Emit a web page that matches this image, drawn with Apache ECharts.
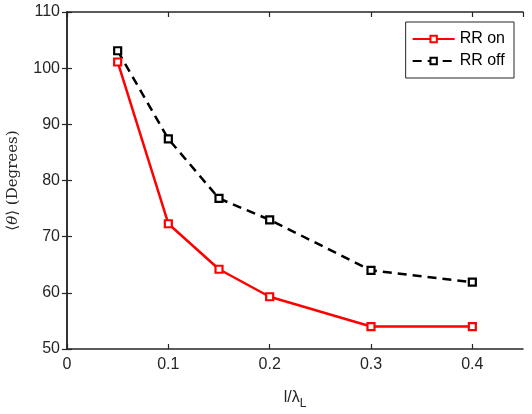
<!DOCTYPE html>
<html>
<head>
<meta charset="utf-8">
<script src="https://cdn.jsdelivr.net/npm/echarts@6/dist/echarts.min.js"></script>
<style>
  html, body { margin: 0; padding: 0; background: #fff; }
  #chart { width: 532px; height: 414px; }
</style>
</head>
<body>
<div id="chart"></div>
<script>
// data
const xVals = [0.05, 0.1, 0.15, 0.2, 0.3, 0.4]
const rrOn = [101.1, 72.3, 64.2, 59.3, 54.0, 54.0]
const rrOff = [103.1, 87.4, 76.8, 73.0, 64.0, 61.9]
const xTicks = [0, 0.1, 0.2, 0.3, 0.4]

const AXIS_COL = '#262626'
const FONT = '"Liberation Sans", Arial, sans-serif'
const SERIF = '"DejaVu Serif", "Liberation Serif", serif'
const RED = '#ff0000'
const BLACK = '#000000'

const pairs = (ys) => xVals.map((x, i) => [x, ys[i]])

function makeSeries(name, vals, color, dashed) {
  return {
    name,
    type: 'line',
    data: pairs(vals),
    symbol: 'rect',
    symbolSize: 7,
    showSymbol: true,
    lineStyle: { color, width: 2.5, type: dashed ? [9, 6] : 'solid' },
    itemStyle: { color: '#fff', borderColor: color, borderWidth: 2.2 },
    emphasis: { disabled: true },
    animation: false,
  }
}

const baseX = {
  type: 'value',
  min: 0,
  max: 0.45,
  interval: 0.1,
  axisLine: { show: true, lineStyle: { color: AXIS_COL, width: 1.5 } },
  axisTick: { show: true, inside: true, length: 5, lineStyle: { color: AXIS_COL, width: 1.2 } },
  splitLine: { show: false },
}
const baseY = {
  type: 'value',
  min: 50,
  max: 110,
  interval: 10,
  axisLine: { show: true, lineStyle: { color: AXIS_COL, width: 1.5 } },
  axisTick: { show: true, inside: true, length: 5, lineStyle: { color: AXIS_COL, width: 1.2 } },
  splitLine: { show: false },
}

const option = {
  backgroundColor: '#fff',
  animation: false,
  grid: { left: 67, right: 9, top: 12, bottom: 65, containLabel: false, outerBoundsMode: 'none' },
  legend: {
    right: 18,
    top: 22,
    orient: 'vertical',
    backgroundColor: '#fff',
    borderColor: AXIS_COL,
    borderWidth: 1,
    borderRadius: 0,
    padding: [9, 9, 9, 6],
    itemWidth: 42,
    itemHeight: 8,
    itemGap: 6,
    textStyle: { fontFamily: FONT, fontSize: 16, color: '#000' },
    data: ['RR on', 'RR off'],
  },
  xAxis: [
    {
      ...baseX,
      position: 'bottom',
      name: 'l/λ{sub|L}',
      nameLocation: 'middle',
      nameGap: 37,
      nameTextStyle: {
        fontFamily: FONT, fontSize: 16, color: AXIS_COL,
        rich: { sub: { fontFamily: FONT, fontSize: 12, color: AXIS_COL, padding: [12, 0, 0, 0] } },
      },
      axisLabel: {
        fontFamily: FONT, fontSize: 16, color: AXIS_COL, margin: 8,
        showMaxLabel: false,
        formatter: (v) => (xTicks.some(t => Math.abs(t - v) < 1e-9) ? String(+v.toFixed(1)) : ''),
      },
    },
    { ...baseX, position: 'top', axisLabel: { show: false } },
  ],
  yAxis: [
    {
      ...baseY,
      position: 'left',
      name: '⟨{i|θ}⟩ (Degrees)',
      nameLocation: 'middle',
      nameGap: 46,
      nameTextStyle: {
        fontFamily: SERIF, fontSize: 15, color: AXIS_COL,
        rich: { i: { fontFamily: SERIF, fontStyle: 'italic', fontSize: 15, color: AXIS_COL } },
      },
      axisLabel: { fontFamily: FONT, fontSize: 16, color: AXIS_COL, margin: 7 },
    },
    { ...baseY, position: 'right', axisLabel: { show: false } },
  ],
  series: [
    makeSeries('RR on', rrOn, RED, false),
    makeSeries('RR off', rrOff, BLACK, true),
  ],
}

const chart = echarts.init(document.getElementById('chart'), null, { renderer: 'canvas' })
chart.setOption(option)
</script>
</body>
</html>
